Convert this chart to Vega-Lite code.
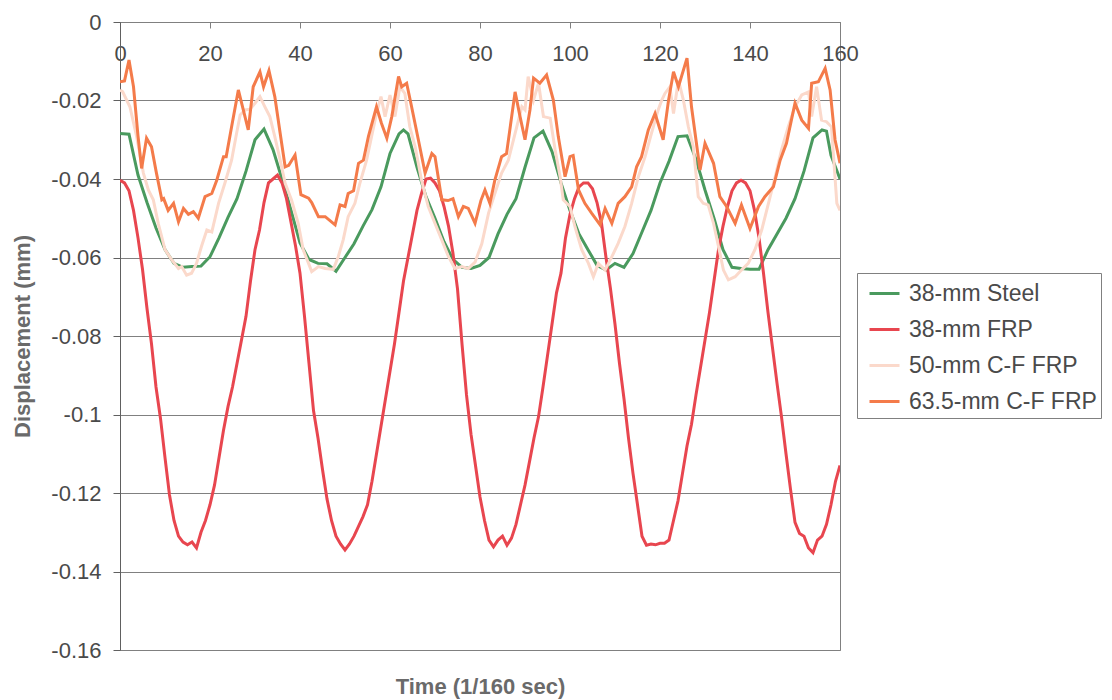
{
  "$schema": "https://vega.github.io/schema/vega-lite/v6.json",
  "width": 720,
  "height": 628,
  "autosize": {"type": "none"},
  "padding": {"left": 120, "top": 22, "right": 272, "bottom": 50},
  "background": "#ffffff",
  "config": {"view": {"stroke": "#808080", "strokeWidth": 1}, "font": "Liberation Sans"},
  "datasets": {
    "steel": [
      {"t":0,"v":-0.0284},{"t":2,"v":-0.0286},{"t":4,"v":-0.039},{"t":6,"v":-0.046},{"t":8,"v":-0.0525},{"t":10,"v":-0.058},{"t":12,"v":-0.0615},{"t":14,"v":-0.0625},{"t":16,"v":-0.0623},{"t":18,"v":-0.0622},{"t":20,"v":-0.0598},{"t":22,"v":-0.055},{"t":24,"v":-0.0498},{"t":26,"v":-0.045},{"t":28,"v":-0.038},{"t":30,"v":-0.030},{"t":32,"v":-0.0273},{"t":34,"v":-0.0325},{"t":36,"v":-0.040},{"t":38,"v":-0.048},{"t":40,"v":-0.0563},{"t":42,"v":-0.0605},{"t":44,"v":-0.0615},{"t":46,"v":-0.0616},{"t":48,"v":-0.0635},{"t":50,"v":-0.060},{"t":52,"v":-0.0565},{"t":54,"v":-0.052},{"t":56,"v":-0.0478},{"t":58,"v":-0.042},{"t":60,"v":-0.0335},{"t":62,"v":-0.0285},{"t":63,"v":-0.0275},{"t":64,"v":-0.0285},{"t":66,"v":-0.037},{"t":68,"v":-0.0445},{"t":70,"v":-0.050},{"t":72,"v":-0.056},{"t":74,"v":-0.0605},{"t":76,"v":-0.0625},{"t":78,"v":-0.0628},{"t":80,"v":-0.062},{"t":82,"v":-0.060},{"t":84,"v":-0.054},{"t":86,"v":-0.049},{"t":88,"v":-0.045},{"t":90,"v":-0.037},{"t":92,"v":-0.0295},{"t":94,"v":-0.0278},{"t":96,"v":-0.033},{"t":98,"v":-0.041},{"t":100,"v":-0.048},{"t":102,"v":-0.054},{"t":104,"v":-0.058},{"t":106,"v":-0.062},{"t":108,"v":-0.0632},{"t":110,"v":-0.0615},{"t":112,"v":-0.0625},{"t":114,"v":-0.059},{"t":116,"v":-0.0535},{"t":118,"v":-0.048},{"t":120,"v":-0.041},{"t":122,"v":-0.0355},{"t":124,"v":-0.0292},{"t":126,"v":-0.029},{"t":128,"v":-0.035},{"t":130,"v":-0.0428},{"t":132,"v":-0.050},{"t":134,"v":-0.058},{"t":136,"v":-0.0625},{"t":138,"v":-0.0628},{"t":140,"v":-0.063},{"t":142,"v":-0.063},{"t":144,"v":-0.058},{"t":146,"v":-0.054},{"t":148,"v":-0.050},{"t":150,"v":-0.045},{"t":152,"v":-0.038},{"t":154,"v":-0.0295},{"t":156,"v":-0.0275},{"t":157,"v":-0.0278},{"t":158,"v":-0.034},{"t":160,"v":-0.040}
    ],
    "frp": [
      {"t":0,"v":-0.0403},{"t":1,"v":-0.041},{"t":2,"v":-0.043},{"t":3,"v":-0.048},{"t":4,"v":-0.055},{"t":5,"v":-0.063},{"t":6,"v":-0.073},{"t":7,"v":-0.082},{"t":8,"v":-0.093},{"t":9,"v":-0.101},{"t":10,"v":-0.111},{"t":11,"v":-0.1205},{"t":12,"v":-0.127},{"t":13,"v":-0.131},{"t":14,"v":-0.1325},{"t":15,"v":-0.1332},{"t":16,"v":-0.1325},{"t":17,"v":-0.134},{"t":18,"v":-0.130},{"t":19,"v":-0.127},{"t":20,"v":-0.123},{"t":21,"v":-0.118},{"t":22,"v":-0.111},{"t":23,"v":-0.104},{"t":24,"v":-0.098},{"t":25,"v":-0.093},{"t":26,"v":-0.087},{"t":27,"v":-0.081},{"t":28,"v":-0.075},{"t":29,"v":-0.066},{"t":30,"v":-0.058},{"t":31,"v":-0.053},{"t":32,"v":-0.046},{"t":33,"v":-0.041},{"t":34,"v":-0.040},{"t":35,"v":-0.039},{"t":36,"v":-0.041},{"t":37,"v":-0.045},{"t":38,"v":-0.051},{"t":39,"v":-0.057},{"t":40,"v":-0.064},{"t":41,"v":-0.075},{"t":42,"v":-0.087},{"t":43,"v":-0.099},{"t":44,"v":-0.106},{"t":45,"v":-0.114},{"t":46,"v":-0.1215},{"t":47,"v":-0.127},{"t":48,"v":-0.131},{"t":49,"v":-0.133},{"t":50,"v":-0.1345},{"t":51,"v":-0.133},{"t":52,"v":-0.131},{"t":53,"v":-0.1285},{"t":54,"v":-0.126},{"t":55,"v":-0.123},{"t":56,"v":-0.117},{"t":57,"v":-0.110},{"t":58,"v":-0.103},{"t":59,"v":-0.096},{"t":60,"v":-0.089},{"t":61,"v":-0.082},{"t":62,"v":-0.074},{"t":63,"v":-0.066},{"t":64,"v":-0.060},{"t":65,"v":-0.054},{"t":66,"v":-0.048},{"t":67,"v":-0.0437},{"t":68,"v":-0.040},{"t":69,"v":-0.0398},{"t":70,"v":-0.041},{"t":71,"v":-0.043},{"t":72,"v":-0.047},{"t":73,"v":-0.052},{"t":74,"v":-0.059},{"t":75,"v":-0.068},{"t":76,"v":-0.082},{"t":77,"v":-0.095},{"t":78,"v":-0.105},{"t":79,"v":-0.113},{"t":80,"v":-0.121},{"t":81,"v":-0.127},{"t":82,"v":-0.132},{"t":83,"v":-0.1337},{"t":84,"v":-0.132},{"t":85,"v":-0.131},{"t":86,"v":-0.1333},{"t":87,"v":-0.1315},{"t":88,"v":-0.128},{"t":89,"v":-0.123},{"t":90,"v":-0.118},{"t":91,"v":-0.112},{"t":92,"v":-0.106},{"t":93,"v":-0.1006},{"t":94,"v":-0.093},{"t":95,"v":-0.085},{"t":96,"v":-0.077},{"t":97,"v":-0.069},{"t":98,"v":-0.064},{"t":99,"v":-0.055},{"t":100,"v":-0.049},{"t":101,"v":-0.045},{"t":102,"v":-0.042},{"t":103,"v":-0.041},{"t":104,"v":-0.041},{"t":105,"v":-0.0425},{"t":106,"v":-0.046},{"t":107,"v":-0.0513},{"t":108,"v":-0.060},{"t":109,"v":-0.068},{"t":110,"v":-0.077},{"t":111,"v":-0.087},{"t":112,"v":-0.096},{"t":113,"v":-0.106},{"t":114,"v":-0.115},{"t":115,"v":-0.123},{"t":116,"v":-0.131},{"t":117,"v":-0.1333},{"t":118,"v":-0.133},{"t":119,"v":-0.1332},{"t":120,"v":-0.1328},{"t":121,"v":-0.1328},{"t":122,"v":-0.132},{"t":123,"v":-0.127},{"t":124,"v":-0.122},{"t":125,"v":-0.115},{"t":126,"v":-0.108},{"t":127,"v":-0.1025},{"t":128,"v":-0.095},{"t":129,"v":-0.088},{"t":130,"v":-0.081},{"t":131,"v":-0.074},{"t":132,"v":-0.066},{"t":133,"v":-0.058},{"t":134,"v":-0.052},{"t":135,"v":-0.047},{"t":136,"v":-0.043},{"t":137,"v":-0.041},{"t":138,"v":-0.0403},{"t":139,"v":-0.041},{"t":140,"v":-0.043},{"t":141,"v":-0.048},{"t":142,"v":-0.055},{"t":143,"v":-0.064},{"t":144,"v":-0.074},{"t":145,"v":-0.083},{"t":146,"v":-0.092},{"t":147,"v":-0.1006},{"t":148,"v":-0.110},{"t":149,"v":-0.119},{"t":150,"v":-0.1275},{"t":151,"v":-0.1303},{"t":152,"v":-0.131},{"t":153,"v":-0.134},{"t":154,"v":-0.1352},{"t":155,"v":-0.132},{"t":156,"v":-0.131},{"t":157,"v":-0.128},{"t":158,"v":-0.123},{"t":159,"v":-0.117},{"t":160,"v":-0.113}
    ],
    "cf50": [
      {"t":0,"v":-0.0173},{"t":0.6,"v":-0.0178},{"t":2.2,"v":-0.0216},{"t":3.7,"v":-0.0292},{"t":5.2,"v":-0.0385},{"t":6.3,"v":-0.0428},{"t":7.4,"v":-0.0453},{"t":8.5,"v":-0.0513},{"t":10,"v":-0.058},{"t":11.5,"v":-0.0606},{"t":13,"v":-0.0628},{"t":13.7,"v":-0.0623},{"t":14.8,"v":-0.0645},{"t":15.9,"v":-0.064},{"t":17,"v":-0.0615},{"t":18.1,"v":-0.0572},{"t":19.3,"v":-0.053},{"t":20.4,"v":-0.0535},{"t":21.9,"v":-0.0462},{"t":23.3,"v":-0.0411},{"t":24.8,"v":-0.0352},{"t":25.9,"v":-0.0284},{"t":26.7,"v":-0.0237},{"t":27.8,"v":-0.0224},{"t":28.9,"v":-0.0222},{"t":30,"v":-0.0207},{"t":31.1,"v":-0.019},{"t":32.2,"v":-0.0216},{"t":33.3,"v":-0.0241},{"t":34.4,"v":-0.0292},{"t":35.6,"v":-0.0352},{"t":36.7,"v":-0.0411},{"t":38.1,"v":-0.0453},{"t":39.6,"v":-0.0513},{"t":40.7,"v":-0.058},{"t":41.9,"v":-0.0615},{"t":42.6,"v":-0.0636},{"t":44.1,"v":-0.0623},{"t":45.6,"v":-0.0628},{"t":47.4,"v":-0.063},{"t":48.5,"v":-0.0598},{"t":49.6,"v":-0.0555},{"t":50.7,"v":-0.0496},{"t":52.2,"v":-0.0462},{"t":53.3,"v":-0.0411},{"t":54.8,"v":-0.0352},{"t":55.9,"v":-0.0292},{"t":57,"v":-0.0233},{"t":58,"v":-0.019},{"t":58.9,"v":-0.0241},{"t":60,"v":-0.0186},{"t":61.1,"v":-0.0241},{"t":62.2,"v":-0.0165},{"t":63.3,"v":-0.0182},{"t":64.4,"v":-0.0267},{"t":65.6,"v":-0.0318},{"t":67,"v":-0.0403},{"t":68.5,"v":-0.047},{"t":70,"v":-0.0513},{"t":71.5,"v":-0.0555},{"t":73,"v":-0.0598},{"t":74.4,"v":-0.0628},{"t":75.9,"v":-0.0623},{"t":77.4,"v":-0.0628},{"t":78.9,"v":-0.0612},{"t":80.4,"v":-0.0565},{"t":81.9,"v":-0.0487},{"t":83.3,"v":-0.0437},{"t":84.8,"v":-0.0385},{"t":86.3,"v":-0.0352},{"t":87.8,"v":-0.0284},{"t":89.3,"v":-0.0216},{"t":90,"v":-0.0224},{"t":90.7,"v":-0.0139},{"t":91.9,"v":-0.0199},{"t":93,"v":-0.0156},{"t":94.1,"v":-0.0241},{"t":95.6,"v":-0.0245},{"t":96.7,"v":-0.0326},{"t":97.8,"v":-0.0394},{"t":98.5,"v":-0.0453},{"t":100,"v":-0.047},{"t":101.1,"v":-0.0521},{"t":102.6,"v":-0.058},{"t":104.1,"v":-0.0615},{"t":105.2,"v":-0.0649},{"t":106.3,"v":-0.0615},{"t":107.8,"v":-0.0632},{"t":109.3,"v":-0.0598},{"t":110.7,"v":-0.0564},{"t":112.2,"v":-0.0521},{"t":113.7,"v":-0.0462},{"t":115.2,"v":-0.0394},{"t":116.7,"v":-0.0343},{"t":118.1,"v":-0.0284},{"t":119.6,"v":-0.0224},{"t":120.4,"v":-0.0199},{"t":121.1,"v":-0.0182},{"t":122.2,"v":-0.0165},{"t":123,"v":-0.0233},{"t":124.1,"v":-0.0148},{"t":125.2,"v":-0.0199},{"t":126.3,"v":-0.0267},{"t":127.4,"v":-0.0318},{"t":128.5,"v":-0.0445},{"t":129.6,"v":-0.0462},{"t":130.7,"v":-0.0466},{"t":131.9,"v":-0.0513},{"t":133,"v":-0.0572},{"t":134.1,"v":-0.0632},{"t":135.2,"v":-0.0657},{"t":136.7,"v":-0.0649},{"t":138.1,"v":-0.0632},{"t":139.6,"v":-0.0615},{"t":141.1,"v":-0.058},{"t":142.6,"v":-0.053},{"t":144.1,"v":-0.0462},{"t":145.6,"v":-0.0394},{"t":147,"v":-0.0326},{"t":148.5,"v":-0.0267},{"t":150,"v":-0.0216},{"t":151.5,"v":-0.0186},{"t":153,"v":-0.0178},{"t":153.7,"v":-0.0241},{"t":154.8,"v":-0.0165},{"t":155.9,"v":-0.025},{"t":157,"v":-0.0254},{"t":158.1,"v":-0.0267},{"t":159.3,"v":-0.0462},{"t":160,"v":-0.048}
    ],
    "cf635": [
      {"t":0,"v":-0.0152},{"t":1,"v":-0.015},{"t":2,"v":-0.0097},{"t":3,"v":-0.0165},{"t":4,"v":-0.029},{"t":4.8,"v":-0.0373},{"t":5.9,"v":-0.0296},{"t":7,"v":-0.0318},{"t":8.1,"v":-0.0385},{"t":9.3,"v":-0.0453},{"t":9.7,"v":-0.045},{"t":10.7,"v":-0.048},{"t":11.9,"v":-0.0462},{"t":13,"v":-0.0509},{"t":14.1,"v":-0.0475},{"t":15.2,"v":-0.049},{"t":16.3,"v":-0.0483},{"t":17.4,"v":-0.050},{"t":18.9,"v":-0.0445},{"t":20.4,"v":-0.0437},{"t":21.5,"v":-0.0403},{"t":23,"v":-0.0343},{"t":23.6,"v":-0.0343},{"t":24.8,"v":-0.0267},{"t":26.3,"v":-0.0173},{"t":27.4,"v":-0.0224},{"t":28.5,"v":-0.0275},{"t":29.6,"v":-0.0165},{"t":31.1,"v":-0.0127},{"t":31.9,"v":-0.0165},{"t":33.1,"v":-0.0124},{"t":34.4,"v":-0.019},{"t":35.6,"v":-0.0284},{"t":36.7,"v":-0.0369},{"t":37.5,"v":-0.0365},{"t":38.9,"v":-0.0339},{"t":40.2,"v":-0.044},{"t":41.9,"v":-0.0449},{"t":42.6,"v":-0.046},{"t":44.1,"v":-0.0496},{"t":45.6,"v":-0.0496},{"t":47.8,"v":-0.0517},{"t":48.9,"v":-0.0466},{"t":50,"v":-0.047},{"t":50.7,"v":-0.0437},{"t":51.9,"v":-0.043},{"t":53,"v":-0.036},{"t":54.1,"v":-0.0352},{"t":55.2,"v":-0.0292},{"t":57,"v":-0.0216},{"t":58.1,"v":-0.0258},{"t":59.3,"v":-0.0296},{"t":60.4,"v":-0.0241},{"t":61.9,"v":-0.0139},{"t":62.6,"v":-0.0165},{"t":63.7,"v":-0.0156},{"t":64.8,"v":-0.0216},{"t":66.3,"v":-0.030},{"t":67.8,"v":-0.0385},{"t":69.3,"v":-0.0335},{"t":70,"v":-0.0343},{"t":71.5,"v":-0.0453},{"t":72.9,"v":-0.0455},{"t":74,"v":-0.045},{"t":75.2,"v":-0.0496},{"t":76.3,"v":-0.047},{"t":77.4,"v":-0.0475},{"t":78.9,"v":-0.0513},{"t":80.2,"v":-0.0455},{"t":81.1,"v":-0.0428},{"t":82.2,"v":-0.0462},{"t":83.3,"v":-0.0403},{"t":84.8,"v":-0.0343},{"t":85.9,"v":-0.0335},{"t":87.8,"v":-0.0178},{"t":88.9,"v":-0.0241},{"t":90,"v":-0.030},{"t":91.1,"v":-0.0224},{"t":91.9,"v":-0.0143},{"t":93.3,"v":-0.0156},{"t":94.8,"v":-0.0135},{"t":96.3,"v":-0.0199},{"t":97.4,"v":-0.0292},{"t":98.9,"v":-0.0394},{"t":100,"v":-0.0343},{"t":100.7,"v":-0.034},{"t":101.9,"v":-0.0428},{"t":103.3,"v":-0.0462},{"t":104.8,"v":-0.0487},{"t":106.7,"v":-0.0517},{"t":107.8,"v":-0.0475},{"t":109.3,"v":-0.0513},{"t":110.7,"v":-0.0462},{"t":112.2,"v":-0.0445},{"t":113.7,"v":-0.042},{"t":114.8,"v":-0.0369},{"t":115.9,"v":-0.0343},{"t":117.4,"v":-0.0275},{"t":118.9,"v":-0.0233},{"t":120.7,"v":-0.030},{"t":121.9,"v":-0.0199},{"t":123,"v":-0.0127},{"t":124.1,"v":-0.0165},{"t":126,"v":-0.0092},{"t":127,"v":-0.0216},{"t":128.9,"v":-0.0377},{"t":130,"v":-0.0309},{"t":131.9,"v":-0.036},{"t":133.3,"v":-0.0445},{"t":134.8,"v":-0.047},{"t":136.7,"v":-0.0513},{"t":138.1,"v":-0.0466},{"t":140,"v":-0.0526},{"t":141.9,"v":-0.047},{"t":143.3,"v":-0.0445},{"t":145.2,"v":-0.042},{"t":146.7,"v":-0.0352},{"t":148.1,"v":-0.0309},{"t":150,"v":-0.0207},{"t":151.5,"v":-0.025},{"t":153,"v":-0.0271},{"t":153.7,"v":-0.0156},{"t":155.2,"v":-0.0152},{"t":156.7,"v":-0.0118},{"t":157.8,"v":-0.0173},{"t":158.9,"v":-0.030},{"t":160,"v":-0.036}
    ]
  },
  "layer": [
    {
      "data": {"name": "steel"},
      "transform": [{"calculate": "'38-mm Steel'", "as": "series"}],
      "mark": {"type": "line", "strokeWidth": 3, "clip": true},
      "encoding": {
        "x": {"field": "t", "type": "quantitative", "scale": {"domain": [0, 160], "nice": false, "zero": false},
          "axis": {"orient": "bottom", "offset": -628, "values": [0, 20, 40, 60, 80, 100, 120, 140, 160], "grid": false,
            "domainColor": "#808080", "tickColor": "#808080", "tickSize": 6, "labelPadding": 15, "labelFontSize": 22,
            "labelColor": "#4a4a4a", "labelFlush": false, "labelOverlap": false, "labelBound": false,
            "title": "Time (1/160 sec)", "titleFontSize": 22, "titleFontWeight": "bold", "titleColor": "#6a6a6a",
            "titleX": 360, "titleY": 671, "titleBaseline": "alphabetic", "titleAlign": "center"}},
        "y": {"field": "v", "type": "quantitative", "scale": {"domain": [-0.16, 0], "nice": false, "zero": false},
          "axis": {"values": [0, -0.02, -0.04, -0.06, -0.08, -0.1, -0.12, -0.14, -0.16], "grid": true,
            "gridColor": "#808080", "gridWidth": 1, "gridOpacity": 1, "domainColor": "#606060", "tickColor": "#606060",
            "tickSize": 7, "labelPadding": 12, "labelFontSize": 22, "labelColor": "#4a4a4a", "labelOverlap": false,
            "labelExpr": "datum.value == 0 ? '0' : '-' + format(-datum.value, '~g')",
            "title": "Displacement (mm)", "titleFontSize": 22, "titleFontWeight": "bold", "titleColor": "#6a6a6a",
            "titleX": -98, "titleY": 314, "titleAngle": 270, "titleAlign": "center", "titleBaseline": "middle"}},
        "color": {"field": "series", "type": "nominal",
          "scale": {"domain": ["38-mm Steel", "38-mm FRP", "50-mm C-F FRP", "63.5-mm C-F FRP"],
                    "range": ["#4a9a5e", "#e8464f", "#fbd9cb", "#f47b4a"]},
          "legend": {"title": null, "orient": "none", "legendX": 737, "legendY": 251, "direction": "vertical",
            "symbolType": "stroke", "symbolSize": 900, "symbolStrokeWidth": 3, "symbolOffset": 7, "labelFontSize": 23,
            "labelColor": "#4a4a4a", "labelOffset": 8, "rowPadding": 7, "padding": 4,
            "strokeColor": "#808080", "fillColor": "#ffffff", "labelLimit": 400}}
      }
    },
    {
      "data": {"name": "frp"},
      "transform": [{"calculate": "'38-mm FRP'", "as": "series"}],
      "mark": {"type": "line", "strokeWidth": 3, "clip": true},
      "encoding": {
        "x": {"field": "t", "type": "quantitative"},
        "y": {"field": "v", "type": "quantitative"},
        "color": {"field": "series", "type": "nominal"}
      }
    },
    {
      "data": {"name": "cf50"},
      "transform": [{"calculate": "'50-mm C-F FRP'", "as": "series"}],
      "mark": {"type": "line", "strokeWidth": 3, "clip": true},
      "encoding": {
        "x": {"field": "t", "type": "quantitative"},
        "y": {"field": "v", "type": "quantitative"},
        "color": {"field": "series", "type": "nominal"}
      }
    },
    {
      "data": {"name": "cf635"},
      "transform": [{"calculate": "'63.5-mm C-F FRP'", "as": "series"}],
      "mark": {"type": "line", "strokeWidth": 3, "clip": true},
      "encoding": {
        "x": {"field": "t", "type": "quantitative"},
        "y": {"field": "v", "type": "quantitative"},
        "color": {"field": "series", "type": "nominal"}
      }
    }
  ]
}
